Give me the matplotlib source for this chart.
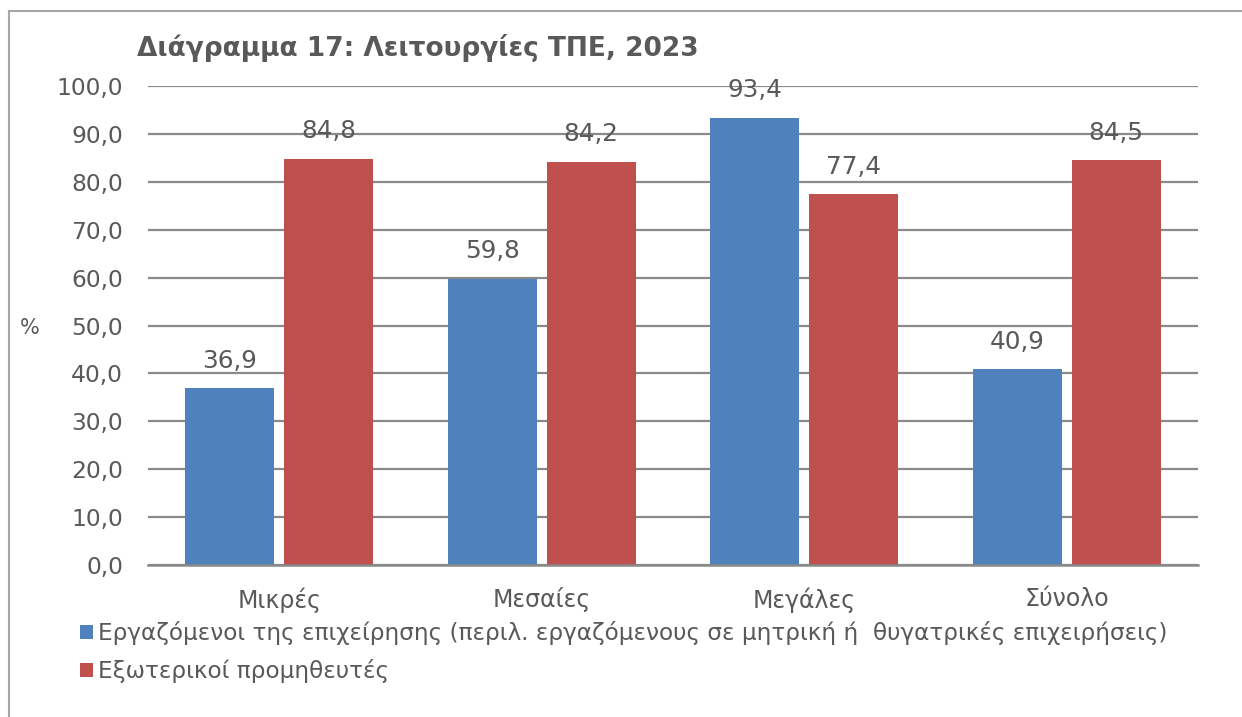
import matplotlib
matplotlib.use("Agg")
import matplotlib.pyplot as plt
from matplotlib.patches import Patch
from matplotlib.lines import Line2D
import numpy as np

# data
categories = ["Μικρές", "Μεσαίες", "Μεγάλες", "Σύνολο"]
employees = [36.9, 59.8, 93.4, 40.9]
suppliers = [84.8, 84.2, 77.4, 84.5]
series_names = [
    "Εργαζόμενοι της επιχείρησης (περιλ. εργαζόμενους σε μητρική ή  θυγατρικές επιχειρήσεις)",
    "Εξωτερικοί προμηθευτές",
]
yticks = [0, 10, 20, 30, 40, 50, 60, 70, 80, 90, 100]

BLUE = "#4F81BD"
RED = "#C0504D"
GRID = "#898989"
TXT = "#595959"

W, H = 1242, 717
fig = plt.figure(figsize=(W / 100, H / 100), dpi=100)
plt.rcParams['font.family'] = ['DejaVu Sans']

# plot area in pixels: x 148..1198, y(100)=86, y(0)=565
ax = fig.add_axes([148 / W, (H - 565) / H, 1050 / W, (565 - 86) / H])

x = np.arange(len(categories))
bw = 0.339
off = 0.189
ax.bar(x - off, employees, bw, color=BLUE, zorder=3)
ax.bar(x + off, suppliers, bw, color=RED, zorder=3)

def fmt(v):
    return f"{v:.1f}".replace(".", ",")

for xi, v in zip(x - off, employees):
    ax.text(xi, v + 3.2, fmt(v), ha="center", va="bottom",
            fontsize=17.8, color=TXT, zorder=4)
for xi, v in zip(x + off, suppliers):
    ax.text(xi, v + 3.2, fmt(v), ha="center", va="bottom",
            fontsize=17.8, color=TXT, zorder=4)

ax.set_xlim(-0.5, 3.5)
ax.set_ylim(0, 100)
ax.set_yticks(yticks)
ax.set_yticklabels([fmt(t) for t in yticks])
ax.set_xticks(x)
ax.set_xticklabels(categories)
ax.tick_params(axis="y", length=0, pad=18, labelsize=16.8, labelcolor=TXT)
ax.tick_params(axis="x", length=0, pad=16, labelsize=17, labelcolor=TXT)
ax.yaxis.grid(True, color=GRID, lw=1.6, zorder=0)
ax.set_axisbelow(True)
for s in ["top", "right", "left"]:
    ax.spines[s].set_visible(False)
ax.spines["bottom"].set_color(GRID)
ax.spines["bottom"].set_linewidth(1.8)
ax.spines["bottom"].set_zorder(3)

fig.text(30 / W, 1 - 328 / H, "%", ha="center", va="center", fontsize=15, color=TXT)
fig.text(137 / W, 1 - 48 / H, "Διάγραμμα 17: Λειτουργίες ΤΠΕ, 2023", ha="left",
         va="center", fontsize=19, fontweight="bold", color=TXT)

# outer frame
fig.add_artist(Line2D([9 / W, 1.0], [1 - 11 / H, 1 - 11 / H], transform=fig.transFigure,
                      color="#A6A6A6", lw=1.5))
fig.add_artist(Line2D([9 / W, 9 / W], [1 - 11 / H, 0.0], transform=fig.transFigure,
                      color="#A6A6A6", lw=1.5))

handles = [Patch(facecolor=BLUE), Patch(facecolor=RED)]
fig.legend(handles, series_names, loc="upper left", bbox_to_anchor=(80 / W, 1 - 621 / H),
           frameon=False, fontsize=16.7, labelcolor=TXT, handlelength=0.56, handleheight=0.52,
           handletextpad=0.22, labelspacing=0.62, borderaxespad=0, borderpad=0)

plt.savefig("out.png", dpi=100)
plt.close()
